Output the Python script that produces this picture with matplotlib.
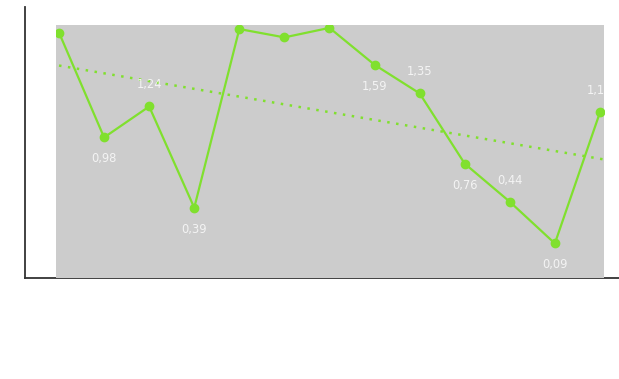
import numpy as np
import matplotlib
matplotlib.use("Agg")
import matplotlib.pyplot as plt

values = [1.86, 0.98, 1.24, 0.39, 1.89, 1.82, 1.90, 1.59, 1.35, 0.76, 0.44, 0.09, 1.19]
shown = [False, True, True, True, False, False, False, True, True, True, True, True, True]
above = [True, False, True, False, True, False, True, False, True, False, True, False, True]

GREEN = "#80e02e"

fig = plt.figure(figsize=(6.19, 3.79), dpi=100)

# outer frame with only left/bottom lines
frame = fig.add_axes([25 / 619, 101 / 379, 594 / 619, 271 / 379])
frame.set_facecolor("none")
for side in ("top", "right"):
    frame.spines[side].set_visible(False)
for side in ("left", "bottom"):
    frame.spines[side].set_color("#333333")
    frame.spines[side].set_linewidth(1.3)
frame.set_xticks([])
frame.set_yticks([])

# gray plotting area
ax = fig.add_axes([56 / 619, 101 / 379, 548 / 619, 253 / 379])
ax.set_facecolor("#cccccc")
for s in ax.spines.values():
    s.set_visible(False)
ax.set_xticks([])
ax.set_yticks([])

x = np.arange(len(values))
ax.plot(x, values, color=GREEN, lw=1.6, marker="o", ms=6, zorder=3)

# linear trend
k, b = np.polyfit(x, values, 1)
xt = np.array([0, 12.2])
ax.plot(xt, k * xt + b, color=GREEN, lw=1.8, ls=(0, (1, 2.6)), zorder=2)

for i, v in enumerate(values):
    if not shown[i]:
        continue
    dy = 15.5 if above[i] else -15.5
    ax.annotate(f"{v:.2f}".replace(".", ","), (i, v), xytext=(0, dy),
                textcoords="offset points", ha="center", va="center",
                color="#f4f4f4", fontsize=8.3, family="DejaVu Sans",
                annotation_clip=False, clip_on=True)

ax.set_xlim(-0.067, 12.09)
ax.set_ylim(-0.20, 1.924)

fig.savefig("out.png", dpi=100)
